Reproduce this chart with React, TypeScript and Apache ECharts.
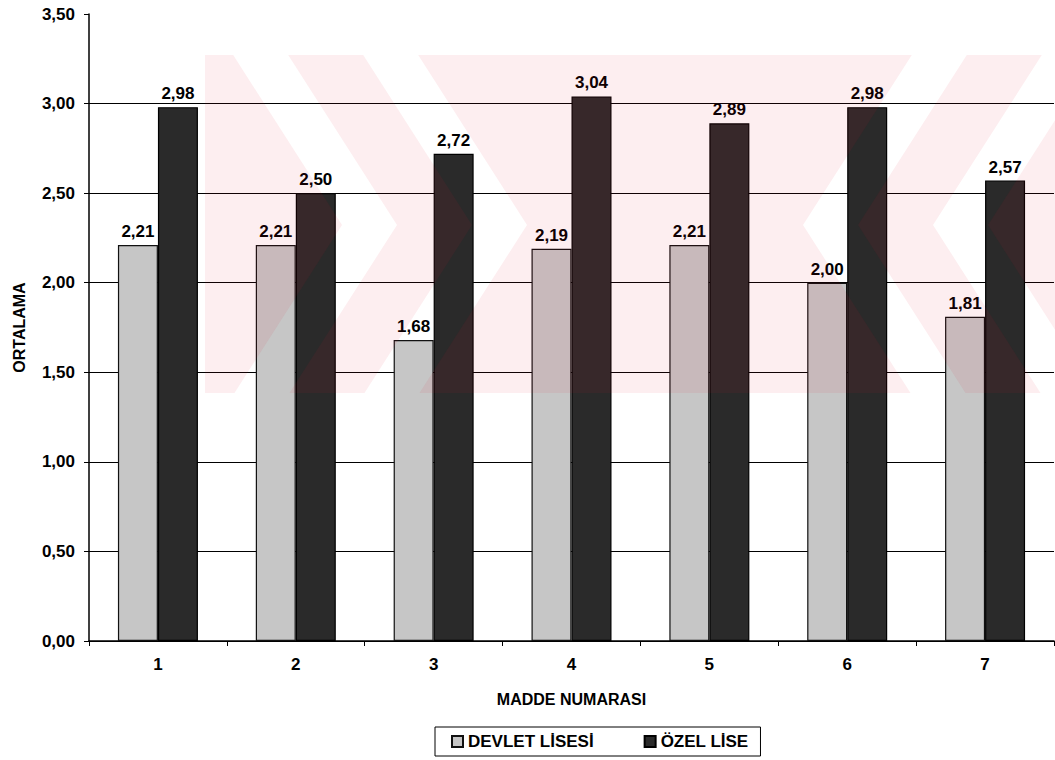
import React, { useEffect, useRef } from "react";
import * as echarts from "echarts";

const categories = ["1", "2", "3", "4", "5", "6", "7"];
const devletLisesi = [2.21, 2.21, 1.68, 2.19, 2.21, 2.0, 1.81];
const ozelLise = [2.98, 2.5, 2.72, 3.04, 2.89, 2.98, 2.57];
const seriesNames = ["DEVLET LİSESİ", "ÖZEL LİSE"];
const yMin = 0;
const yMax = 3.5;
const yInterval = 0.5;

const FONT = 'Arial, "Liberation Sans", sans-serif';
const fmt = (v: number) => v.toFixed(2).replace(".", ",");

// --- faint watermark (decoration only) ---
type Pt = [number, number];
const WM = { x0: 205, x1: 1055, y0: 55, y1: 393, yt: 225, s: 0.64, mirror: 1330 };
function clipRect(poly: Pt[], xmin: number, xmax: number, ymin: number, ymax: number): Pt[] {
  const edges: [(p: Pt) => boolean, (a: Pt, b: Pt) => Pt][] = [
    [(p) => p[0] >= xmin, (a, b) => { const t = (xmin - a[0]) / (b[0] - a[0]); return [xmin, a[1] + t * (b[1] - a[1])]; }],
    [(p) => p[0] <= xmax, (a, b) => { const t = (xmax - a[0]) / (b[0] - a[0]); return [xmax, a[1] + t * (b[1] - a[1])]; }],
    [(p) => p[1] >= ymin, (a, b) => { const t = (ymin - a[1]) / (b[1] - a[1]); return [a[0] + t * (b[0] - a[0]), ymin]; }],
    [(p) => p[1] <= ymax, (a, b) => { const t = (ymax - a[1]) / (b[1] - a[1]); return [a[0] + t * (b[0] - a[0]), ymax]; }],
  ];
  let out = poly;
  for (const [inside, inter] of edges) {
    const inp = out;
    out = [];
    for (let i = 0; i < inp.length; i++) {
      const cur = inp[i];
      const prev = inp[(i + inp.length - 1) % inp.length];
      if (inside(cur)) {
        if (!inside(prev)) out.push(inter(prev, cur));
        out.push(cur);
      } else if (inside(prev)) {
        out.push(inter(prev, cur));
      }
    }
    if (!out.length) break;
  }
  return out;
}
function chev(a: number, y: number) {
  return a - WM.s * Math.abs(y - WM.yt);
}
function leftBoundary(a: number): Pt[] {
  return [[chev(a, WM.y0 - 5), WM.y0 - 5], [a, WM.yt], [chev(a, WM.y1 + 5), WM.y1 + 5]];
}
function mirrorPts(p: Pt[]): Pt[] {
  return p.map(([x, y]) => [WM.mirror - x, y] as Pt);
}
function buildWatermark(): Pt[][] {
  const w = 55;
  const c1 = 342;
  const c2 = 472;
  const polys: Pt[][] = [];
  const p0: Pt[] = [[WM.x0 - 200, WM.y0 - 5], ...leftBoundary(c1), [WM.x0 - 200, WM.y1 + 5]];
  const p1: Pt[] = [...leftBoundary(c1 + w), ...leftBoundary(c2).reverse()];
  const l2 = leftBoundary(c2 + w);
  const p2: Pt[] = [...l2, ...mirrorPts(l2).reverse()];
  polys.push(p0, p1, p2, mirrorPts(p1), mirrorPts(p0));
  return polys
    .map((p) => clipRect(p, WM.x0, WM.x1, WM.y0, WM.y1))
    .filter((p) => p.length > 2);
}

export default function App() {
  const ref = useRef<HTMLDivElement>(null);
  useEffect(() => {
    if (!ref.current) return;
    const chart = echarts.init(ref.current, null, { renderer: "svg" });
    const labelStyle = {
      show: true,
      position: "top" as const,
      distance: 5,
      color: "#000",
      fontFamily: FONT,
      fontWeight: "bold" as const,
      fontSize: 17,
      formatter: (p: any) => fmt(p.value),
    };
    const watermark = buildWatermark().map((pts) => ({
      type: "polygon",
      silent: true,
      z: 100,
      shape: { points: pts },
      style: { fill: "#e0102a", opacity: 0.07 },
    }));
    chart.setOption({
      animation: false,
      backgroundColor: "#ffffff",
      textStyle: { fontFamily: FONT },
      grid: { left: 89, right: 1, top: 14, bottom: 119, containLabel: false },
      legend: {
        data: seriesNames,
        left: 435,
        top: 727,
        orient: "horizontal",
        icon: "rect",
        itemWidth: 11,
        itemHeight: 11,
        itemGap: 50,
        padding: [6, 12, 6, 16],
        borderColor: "#000",
        borderWidth: 1,
        borderRadius: 0,
        textStyle: { color: "#000", fontFamily: FONT, fontWeight: "bold", fontSize: 17 },
      },
      xAxis: {
        type: "category",
        data: categories,
        boundaryGap: true,
        name: "MADDE NUMARASI",
        nameLocation: "middle",
        nameGap: 50,
        nameTextStyle: { color: "#000", fontFamily: FONT, fontWeight: "bold", fontSize: 16 },
        axisLine: { show: true, lineStyle: { color: "#000", width: 1.5 } },
        axisTick: { show: true, alignWithLabel: false, length: 5, lineStyle: { color: "#000" } },
        axisLabel: { color: "#000", fontFamily: FONT, fontWeight: "bold", fontSize: 17, margin: 15 },
        splitLine: { show: false },
      },
      yAxis: {
        type: "value",
        min: yMin,
        max: yMax,
        interval: yInterval,
        name: "ORTALAMA",
        nameLocation: "middle",
        nameRotate: 90,
        nameGap: 62,
        nameTextStyle: { color: "#000", fontFamily: FONT, fontWeight: "bold", fontSize: 16 },
        axisLine: { show: true, lineStyle: { color: "#000", width: 1.5 } },
        axisTick: { show: true, inside: false, length: 5, lineStyle: { color: "#000" } },
        axisLabel: {
          color: "#000",
          fontFamily: FONT,
          fontWeight: "bold",
          fontSize: 17,
          margin: 14,
          formatter: (v: number) => fmt(v),
        },
        splitLine: { show: true, showMaxLine: false, lineStyle: { color: "#000", width: 1.2 } },
      },
      series: [
        {
          name: seriesNames[0],
          type: "bar",
          data: devletLisesi,
          barWidth: 40,
          barGap: "0%",
          itemStyle: { color: "#c6c6c6", borderColor: "#111", borderWidth: 1.2 },
          label: labelStyle,
        },
        {
          name: seriesNames[1],
          type: "bar",
          data: ozelLise,
          barWidth: 40,
          barGap: "0%",
          itemStyle: { color: "#2a2a2a", borderColor: "#000", borderWidth: 1.2 },
          label: labelStyle,
        },
      ],
      graphic: watermark,
    });
    return () => chart.dispose();
  }, []);
  return (
    <div
      ref={ref}
      style={{ position: "fixed", left: 0, top: 0, width: 1055, height: 760, background: "#fff" }}
    />
  );
}
